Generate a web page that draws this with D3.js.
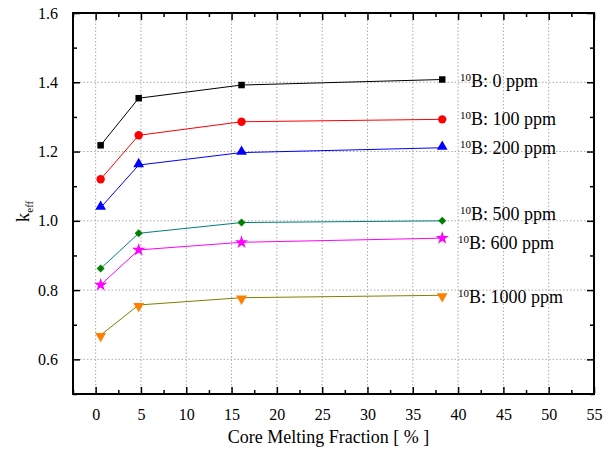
<!DOCTYPE html>
<html>
<head>
<script src="https://cdn.jsdelivr.net/npm/d3@7"></script>
</head>
<body style="margin:0">
<svg id="chart" width="609" height="453"></svg>
<script>
// values
const fractions = [0.55, 4.75, 16.1, 38.25];
const ppmLabels = ["0", "100", "200", "500", "600", "1000"];
const k0    = [1.218, 1.354, 1.392, 1.408];
const k100  = [1.120, 1.247, 1.286, 1.293];
const k200  = [1.038, 1.161, 1.197, 1.211];
const k500  = [0.862, 0.964, 0.995, 1.000];
const k600  = [0.815, 0.916, 0.938, 0.950];
const k1000 = [0.670, 0.757, 0.778, 0.785];
const xTicks = [0, 5, 10, 15, 20, 25, 30, 35, 40, 45, 50, 55];
const yTicks = [0.6, 0.8, 1.0, 1.2, 1.4, 1.6];

{
const FONT = '"Times New Roman"';
const svg = d3.select("#chart");
const L = 73, R = 594, T = 13, B = 394;

const x = d3.scaleLinear().domain([-2.5, 55]).range([L, R]);
const y = d3.scaleLinear().domain([0.5, 1.6]).range([B, T]);

const series = [
  {k: k0,    line: "#000000", fill: "#000000", sym: d3.symbolSquare,   size: 42, dy: 0, rot: 0},
  {k: k100,  line: "#ff0000", fill: "#ff0000", sym: d3.symbolCircle,   size: 55, dy: 0, rot: 0},
  {k: k200,  line: "#0000ff", fill: "#0000ff", sym: d3.symbolTriangle, size: 50, dy: -1, rot: 0},
  {k: k500,  line: "#008080", fill: "#008000", sym: d3.symbolSquare,   size: 32, dy: 0, rot: 45},
  {k: k600,  line: "#ff00ff", fill: "#ff00ff", sym: d3.symbolStar,     size: 55, dy: 0, rot: 0},
  {k: k1000, line: "#808000", fill: "#ff8000", sym: d3.symbolTriangle, size: 50, dy: 1, rot: 180}
];
// label positions (data units) for each curve
const labelY = [1.405, 1.295, 1.21, 1.02, 0.935, 0.78];

// grid
const grid = svg.append("g").attr("stroke", "#aaa").attr("stroke-dasharray", "1.5,2").attr("stroke-width", 1);
xTicks.filter(v => v > -2.5 && v < 55).forEach(v => {
  grid.append("line").attr("x1", x(v)).attr("x2", x(v)).attr("y1", T).attr("y2", B);
});
yTicks.filter(v => v < 1.6).forEach(v => {
  grid.append("line").attr("x1", L).attr("x2", R).attr("y1", y(v)).attr("y2", y(v));
});

// axes, ticks inward
const xMinor = d3.range(-2.5, 55.01, 2.5).filter(v => xTicks.indexOf(v) < 0);
const yMinor = d3.range(0.5, 1.61, 0.2).map(v => +v.toFixed(2));

function addAxis(axis, tr, hideLabels) {
  const g = svg.append("g").attr("transform", tr).call(axis);
  g.attr("font-family", null);
  g.select(".domain").remove();
  g.selectAll("line").attr("stroke", "#000").attr("stroke-width", 1.5);
  if (hideLabels) g.selectAll("text").remove();
  return g;
}

const bx = addAxis(d3.axisBottom(x).tickValues(xTicks).tickSize(-7).tickPadding(15).tickFormat(d3.format("d")), `translate(0,${B})`);
bx.selectAll("text").attr("font-size", 16).attr("fill", "#000");
addAxis(d3.axisBottom(x).tickValues(xMinor).tickSize(-4), `translate(0,${B})`, true);
addAxis(d3.axisTop(x).tickValues(xTicks).tickSize(-7), `translate(0,${T})`, true);
addAxis(d3.axisTop(x).tickValues(xMinor).tickSize(-4), `translate(0,${T})`, true);

const ly = addAxis(d3.axisLeft(y).tickValues(yTicks).tickSize(-7).tickPadding(15).tickFormat(d3.format(".1f")), `translate(${L},0)`);
ly.selectAll("text").attr("font-size", 16).attr("fill", "#000");
addAxis(d3.axisLeft(y).tickValues(yMinor).tickSize(-4), `translate(${L},0)`, true);
addAxis(d3.axisRight(y).tickValues(yTicks).tickSize(-7), `translate(${R},0)`, true);
addAxis(d3.axisRight(y).tickValues(yMinor).tickSize(-4), `translate(${R},0)`, true);

svg.append("rect").attr("x", L).attr("y", T).attr("width", R - L).attr("height", B - T)
  .attr("fill", "none").attr("stroke", "#000").attr("stroke-width", 2);

// curves
const line = d3.line().x((d, i) => x(fractions[i])).y(d => y(d));
series.forEach((s, j) => {
  svg.append("path").datum(s.k).attr("d", line)
    .attr("fill", "none").attr("stroke", s.line).attr("stroke-width", 1);
  svg.selectAll(null).data(s.k).enter().append("path")
    .attr("d", d3.symbol().type(s.sym).size(s.size))
    .attr("transform", (d, i) => `translate(${x(fractions[i])},${y(d) + s.dy}) rotate(${s.rot})`)
    .attr("fill", s.fill);

  const t = svg.append("text").attr("x", j >= 4 ? 458 : 460).attr("y", y(labelY[j]) + 6)
    .attr("font-size", 18).attr("fill", "#000");
  t.append("tspan").attr("font-size", 11).attr("dy", -6).text("10");
  t.append("tspan").attr("dy", 6).text(`B: ${ppmLabels[j]} ppm`);
});

// axis titles
svg.append("text").attr("x", (L + R) / 2 - 5).attr("y", 443).attr("text-anchor", "middle")
  .attr("font-size", 18).text("Core Melting Fraction [ % ]");
const yt = svg.append("text").attr("transform", `translate(29,${(T + B) / 2 + 8}) rotate(-90)`)
  .attr("text-anchor", "middle").attr("font-size", 19);
yt.append("tspan").text("k");
yt.append("tspan").attr("font-size", 11).attr("dy", 4).text("eff");

svg.selectAll("text").style("font-family", FONT);
}
</script>
</body>
</html>
